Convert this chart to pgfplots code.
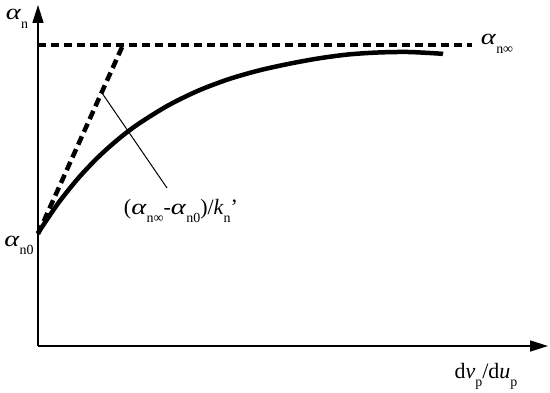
\documentclass[border=0pt]{standalone}
\usepackage{fontspec}
\setmainfont{Liberation Serif}
\usepackage{pgfplots}
\pgfplotsset{compat=1.18}
\usetikzlibrary{arrows.meta}
\newcommand\sub[1]{\raisebox{-0.40em}{\fontsize{14}{15}\selectfont #1}}
\newcommand\al{\scalebox{1.3}[1]{\textit{α}}}
\begin{document}
\begin{tikzpicture}
\begin{axis}[
  scale only axis, width=510bp, height=341bp,
  xmin=0, xmax=510, ymin=0, ymax=341,
  axis lines=left, xtick=\empty, ytick=\empty,
  axis line style={line width=1.6bp, -{Triangle[length=18bp,width=11bp]}},
  clip=false]
% asymptote
\addplot[black, line width=3.5bp, dash pattern=on 8bp off 5bp] coordinates {(0,301) (434,301)};
% initial tangent
\addplot[black, line width=4.5bp, dash pattern=on 9bp off 5bp] coordinates {(0,112) (85,301)};
% response curve
\addplot[black, line width=4.5bp, smooth] coordinates {
 (0,113) (20,142.5) (40,167.5) (60,188.7) (80,206.6) (100,221.8) (130,240.5)
 (160,255.2) (190,266.6) (220,275.3) (250,282) (280,287.5) (310,291.5)
 (340,293.5) (370,294) (400,292.5) (405,292)};
% leader line
\addplot[black, line width=1bp] coordinates {(64,253) (129,158)};
\node[anchor=base, font=\fontsize{22}{24}\selectfont] at (axis cs:143,132)
  {(\al\sub{n∞}-\al\sub{n0})/\textit{k}\sub{n}’};
\node[anchor=base, font=\fontsize{22}{24}\selectfont] at (axis cs:-21,326) {\al\sub{n}};
\node[anchor=base, font=\fontsize{22}{24}\selectfont] at (axis cs:-19,100) {\al\sub{n0}};
\node[anchor=base, font=\fontsize{22}{24}\selectfont] at (axis cs:459,301) {\al\sub{n∞}};
\node[anchor=base, font=\fontsize{22}{24}\selectfont] at (axis cs:448,-32)
  {d\textit{v}\sub{p}/d\textit{u}\sub{p}};
\coordinate (bl) at (axis cs:-38,-46);
\coordinate (tr) at (axis cs:512,346);
\end{axis}
\pgfresetboundingbox
\path[use as bounding box] (bl) rectangle (tr);
\end{tikzpicture}
\end{document}
